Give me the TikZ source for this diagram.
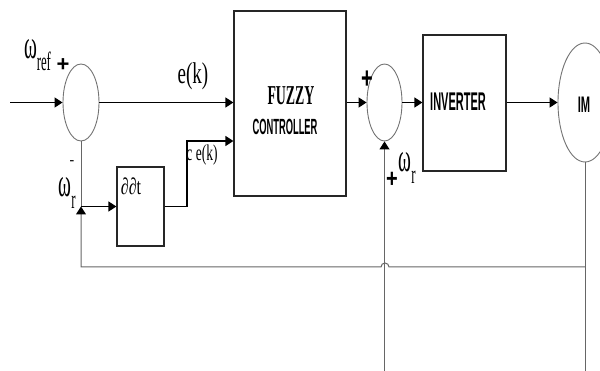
\documentclass[tikz,border=0pt]{standalone}
\usepackage{graphicx}
\usepackage{fontspec}
\setmainfont{Liberation Serif}
\setsansfont{Liberation Sans}
\usetikzlibrary{arrows.meta,shapes.geometric}

\begin{document}
\begin{tikzpicture}[x=1pt,y=-1pt]
\tikzset{
  sumnode/.style={ellipse,draw=black!55,line width=0.9pt,inner sep=0pt},
  blocknode/.style={rectangle,draw=black!85,line width=1.2pt,inner sep=0pt},
  signal/.style={draw=black,line width=1.4pt,-{Triangle[length=8pt,width=10pt]}},
  plainline/.style={draw=black!60,line width=1pt},
  feedback/.style={plainline,-{Triangle[length=8pt,width=10pt,color=black]}},
  txt/.style={inner sep=0pt}
}
\useasboundingbox (0,0) rectangle (600,371);
\clip (0,0) rectangle (600,371);
% blocks
\node[sumnode,minimum width=36,minimum height=77] (sumA) at (81,102.5) {};
\node[blocknode,minimum width=112,minimum height=185] (fuzzy) at (290,103.5) {};
\node[blocknode,minimum width=47,minimum height=79] (deriv) at (140.5,206.5) {};
\node[sumnode,minimum width=35,minimum height=77] (sumB) at (384.5,102.5) {};
\node[blocknode,minimum width=83,minimum height=136] (inv) at (464.5,103) {};
\node[sumnode,minimum width=54,minimum height=119] (im) at (585,102.5) {};
% labels
\node[txt,font=\fontsize{26}{26}\selectfont] (wref) at (37.5,55) {\scalebox{0.75}[1.55]{ω\raisebox{-0.3em}{\fontsize{17}{17}\selectfont ref}}};
\node[txt,font=\sffamily\bfseries\fontsize{22}{22}\selectfont] (plusA) at (63,65) {+};
\node[txt,font=\fontsize{20}{20}\selectfont] (ek) at (193,76) {\scalebox{0.95}[1.5]{e(k)}};
\node[txt,font=\fontsize{15}{15}\selectfont] (cek) at (202,155) {\scalebox{0.9}[1.5]{c e(k)}};
\node[txt,font=\fontsize{16}{16}\selectfont] (ddt) at (131,186) {\scalebox{1}[1.45]{∂∂t}};
\node[txt,font=\bfseries\fontsize{14}{14}\selectfont] (minusA) at (72,163) {-};
\node[txt,font=\fontsize{26}{26}\selectfont] (wrA) at (67,193) {\scalebox{0.75}[1.55]{ω\raisebox{-0.3em}{\fontsize{17}{17}\selectfont r}}};
\node[txt,font=\bfseries\fontsize{21}{21}\selectfont] (fuzzytxt) at (291,96) {\scalebox{0.66}[1.3]{FUZZY}};
\node[txt,font=\sffamily\bfseries\fontsize{18}{18}\selectfont] (ctrltxt) at (285,127) {\scalebox{0.52}[1.22]{CONTROLLER}};
\node[txt,font=\sffamily\bfseries\fontsize{20}{20}\selectfont] (plusB) at (367,80) {\scalebox{1}[1.5]{+}};
\node[txt,font=\sffamily\bfseries\fontsize{20}{20}\selectfont] (plusC) at (392,180) {\scalebox{1}[1.3]{+}};
\node[txt,font=\fontsize{26}{26}\selectfont] (wrB) at (407,168) {\scalebox{0.75}[1.55]{ω\raisebox{-0.3em}{\fontsize{17}{17}\selectfont r}}};
\node[txt,font=\sffamily\bfseries\fontsize{20}{20}\selectfont] (invtxt) at (458,102) {\scalebox{0.55}[1.28]{INVERTER}};
\node[txt,font=\sffamily\bfseries\fontsize{18}{18}\selectfont] (imtxt) at (584,105) {\scalebox{0.62}[1.25]{IM}};
% free ends and bends
\coordinate (src) at (10,102.5);
\coordinate (jn) at (81,206.5);
\coordinate (ceK) at (187,141);
\coordinate (fbL) at (81,267);
\coordinate (fbR) at (585,267);
\coordinate (hop) at (389,267);
\coordinate (wIn) at (384.5,371);
\coordinate (imEnd) at (585,371);
% forward path
\draw[signal] (src) -- (sumA.west);
\draw[signal] (sumA.east) -- (sumA.east -| fuzzy.west);
\draw[signal] (deriv.east) -| (ceK) -- (ceK -| fuzzy.west);
\draw[signal] (sumA -| fuzzy.east) -- (sumB.west);
\draw[signal] (sumB.east) -- (sumB -| inv.west);
\draw[signal] (im -| inv.east) -- (im.west);
% feedback
\draw[plainline] (im.south) -- (imEnd);
\draw[feedback] (fbR) -- (hop) arc[start angle=0,end angle=180,radius=4pt] -- (fbL) -- (jn);
\draw[plainline] (jn) -- (sumA.south);
\draw[signal] (jn) -- (deriv.west);
\draw[feedback] (wIn) -- (sumB.south);
\end{tikzpicture}
\end{document}
